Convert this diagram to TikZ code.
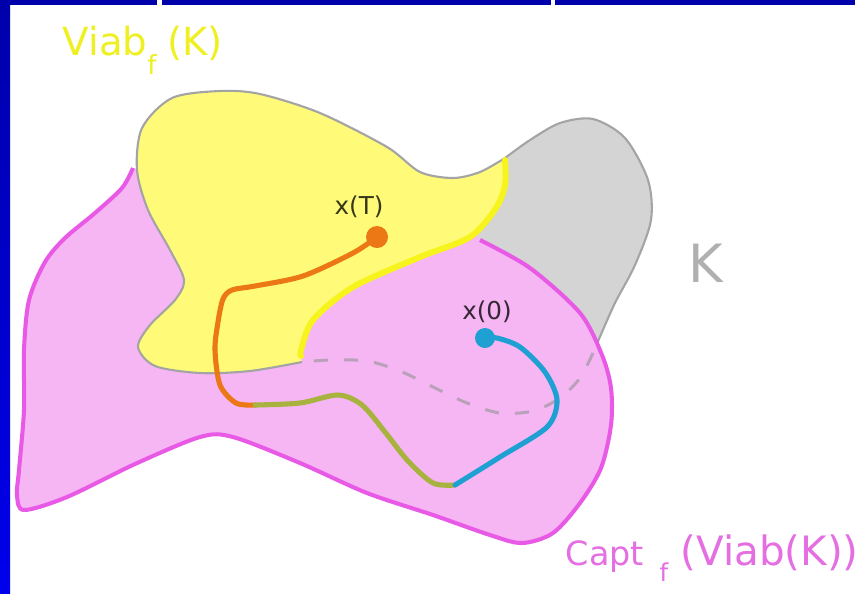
\documentclass[tikz,border=0pt]{standalone}
\usepackage{fontspec}
\setmainfont{DejaVu Sans}
\usetikzlibrary{calc}

\definecolor{frametop}{HTML}{0000AA}
\definecolor{framebot}{HTML}{0000EC}
\definecolor{kfill}{HTML}{D4D4D4}
\definecolor{kline}{HTML}{A4A4A4}
\definecolor{kdash}{HTML}{B9A2B9}
\definecolor{pinkfill}{HTML}{F5B6F3}
\definecolor{pinkline}{HTML}{E85AE6}
\definecolor{viabfill}{HTML}{FFFB78}
\definecolor{viabline}{HTML}{F6F41C}
\definecolor{viabtext}{HTML}{EEF022}
\definecolor{capttext}{HTML}{E46EE2}
\definecolor{ktext}{HTML}{B0B0B0}
\definecolor{trajorange}{HTML}{EB7814}
\definecolor{trajolive}{HTML}{A8B23E}
\definecolor{trajblue}{HTML}{1EA0D2}

\def\subf#1#2{\raisebox{-#1}{\fontsize{#2}{#2}\selectfont f}}

\begin{document}
\begin{tikzpicture}[x=0.01cm,y=-0.01cm,
	edge/.style={draw=kline,line width=0.6pt},
	traj/.style={line width=1.45pt,line cap=round,line join=round},
	xlab/.style={font=\fontsize{7}{8}\selectfont,text=black,text opacity=0.78,anchor=base,inner sep=0pt},
	setlab/.style={anchor=base west,inner sep=0pt}]
	%%%%% START %%%%%
	\useasboundingbox (0,0) rectangle (855,593);
	\fill[white] (0,0) rectangle (855,593);
	
	% frame
	\shade[top color=frametop,bottom color=framebot] (0,0) rectangle (10,593);
	\fill[frametop] (0,0) rectangle (157,5);
	\fill[frametop] (162,0) rectangle (551,5);
	\fill[frametop] (555,0) rectangle (855,5);
	
	% K
	\fill[kfill] plot[smooth] coordinates {(302,362) (250,371) (200,373) (155,366) (138,347) (150,325) (175,300) (184,280) (170,250) (148,210) (137,170) (142,128) (172,98) (220,91) (260,94) (320,113) (387,147) (420,172) (453,178) (480,172) (505,158)}
		-- plot[smooth] coordinates {(505,158) (530,140) (560,123) (593,119) (625,138) (648,180) (651,220) (635,265) (614,305) (593,353)}
		-- plot[smooth] coordinates {(593,353) (580,378) (560,398) (533,411) (500,413) (467,403) (433,387) (400,371) (367,361) (330,360) (302,362)} -- cycle;
	\draw[edge] plot[smooth] coordinates {(505,158) (530,140) (560,123) (593,119) (625,138) (648,180) (651,220) (635,265) (614,305) (593,353)};
	
	% Capt
	\fill[pinkfill] plot[smooth] coordinates {(133,168) (122,188) (95,213) (65,238) (45,262) (29,300) (24,350) (24,410) (19,470) (17,495) (24,510) (67,497) (135,464) (200,437) (233,437) (300,463) (367,493) (433,515) (490,535) (522,543) (553,533) (580,503) (601,468) (611,425) (611,388) (602,355) (580,313) (530,268) (480,240)}
		-- (470,222) -- (350,200) -- (200,185) -- cycle;
	\draw[pinkline,line width=1.15pt] plot[smooth] coordinates {(133,168) (122,188) (95,213) (65,238) (45,262) (29,300) (24,350) (24,410) (19,470) (17,495) (24,510) (67,497) (135,464) (200,437) (233,437) (300,463) (367,493) (433,515) (490,535) (522,543) (553,533) (580,503) (601,468) (611,425) (611,388) (602,355) (580,313) (530,268) (480,240)};
	\draw[kdash,line width=0.85pt,dash pattern=on 4pt off 4.6pt] plot[smooth] coordinates {(593,353) (580,378) (560,398) (533,411) (500,413) (467,403) (433,387) (400,371) (367,361) (330,360) (302,362)};
	
	% Viab
	\fill[viabfill] plot[smooth] coordinates {(302,362) (250,371) (200,373) (155,366) (138,347) (150,325) (175,300) (184,280) (170,250) (148,210) (137,170) (142,128) (172,98) (220,91) (260,94) (320,113) (387,147) (420,172) (453,178) (480,172) (505,158)}
		-- plot[smooth] coordinates {(505,158) (505,185) (496,208) (470,237) (420,257) (353,287) (313,320) (301,350) (302,362)} -- cycle;
	\draw[edge] plot[smooth] coordinates {(302,362) (250,371) (200,373) (155,366) (138,347) (150,325) (175,300) (184,280) (170,250) (148,210) (137,170) (142,128) (172,98) (220,91) (260,94) (320,113) (387,147) (420,172) (453,178) (480,172) (505,158)};
	\draw[viabline,line width=1.7pt,line cap=round] plot[smooth] coordinates {(505,160) (505,185) (496,208) (470,237) (420,257) (353,287) (313,320) (301,350) (301,356)};
	
	% trajectory
	\coordinate (xTdot) at (377,237);
	\coordinate (x0dot) at (485,338);
	\coordinate (turn) at (255,405);
	\coordinate (low) at (455,485);
	\draw[traj,trajorange] plot[smooth,tension=0.5] coordinates {(xTdot) (353,253) (303,276) (255,286) (232,290) (223,299) (218,322) (215,350) (220,385) (236,403) (turn)};
	\draw[traj,trajolive] plot[smooth] coordinates {(turn) (300,403) (338,395) (362,405) (385,432) (408,461) (433,483) (low)};
	\draw[traj,trajblue] plot[smooth] coordinates {(low) (500,457) (547,427) (557,400) (545,372) (520,347) (497,338) (x0dot)};
	\fill[trajorange] (xTdot) circle (11);
	\fill[trajblue] (x0dot) circle (10);
	
	% labels
	\node[xlab] (xT) at (359,214) {x(T)};
	\node[xlab] (x0) at (487,319) {x(0)};
	\node[setlab,text=viabtext,font=\fontsize{11}{13}\selectfont] (viab) at (62,55) {Viab\subf{5.5pt}{7.5}\hspace{3pt}(K)};
	\node[setlab,text=ktext,font=\fontsize{15}{18}\selectfont] (klab) at (688,282) {K};
	\node[setlab,text=capttext,font=\fontsize{9.5}{11}\selectfont] (capt) at (565,565) {Capt\hspace{4.5pt}\subf{4.8pt}{7}\hspace{3.5pt}\fontsize{11.5}{13}\selectfont(Viab(K))};
	%%%%% END %%%%%
\end{tikzpicture}
\end{document}
